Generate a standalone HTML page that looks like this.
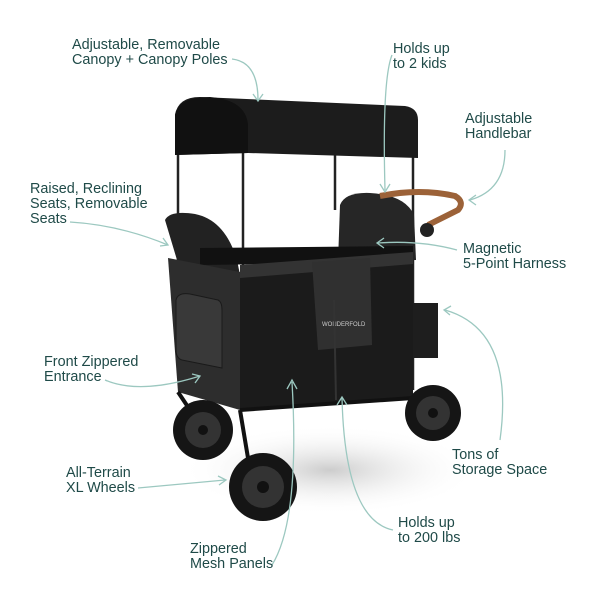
<!DOCTYPE html>
<html><head><meta charset="utf-8"><style>
body{margin:0;width:600px;height:600px;background:#fff;overflow:hidden;position:relative;font-family:"Liberation Sans",sans-serif}
.t{position:absolute;color:#1f4a48;font-size:14.4px;line-height:15px;white-space:nowrap}
svg{position:absolute;left:0;top:0}
</style></head><body>
<svg width="600" height="600" viewBox="0 0 600 600">
<defs><radialGradient id="sh" cx="0.5" cy="0.5" r="0.5"><stop offset="0" stop-color="#ccc"/><stop offset="1" stop-color="#fff" stop-opacity="0"/></radialGradient></defs>
<ellipse cx="330" cy="470" rx="150" ry="45" fill="url(#sh)"/>
<g stroke="#222" stroke-width="2.5">
<line x1="178" y1="150" x2="178" y2="270"/><line x1="243" y1="150" x2="243" y2="290"/>
<line x1="335" y1="150" x2="335" y2="210"/><line x1="413" y1="150" x2="413" y2="390"/>
</g>
<path d="M175 155 L175 115 Q178 97 200 97 L405 106 Q418 108 418 120 L418 158 L248 153 Z" fill="#1c1c1c"/>
<path d="M175 155 L175 115 Q178 97 210 97 Q246 100 248 125 L248 153 Z" fill="#111"/>
<path d="M165 220 Q170 210 195 214 Q225 220 237 260 L240 275 L180 270 Z" fill="#222"/>
<path d="M340 205 Q345 192 370 193 Q405 195 414 215 L416 260 L338 262 Z" fill="#262626"/>
<path d="M200 248 L413 246 L413 262 L200 265 Z" fill="#111"/>
<path d="M168 258 L240 272 L240 410 L178 392 Z" fill="#2d2d2d"/>
<path d="M176 300 Q178 292 190 294 L218 300 Q222 302 222 310 L222 368 L182 360 Q176 358 176 350 Z" fill="#393939" stroke="#1a1a1a"/>
<path d="M240 270 L413 257 L413 398 L240 410 Z" fill="#1b1b1b"/>
<path d="M240 265 L413 252 L413 264 L240 278 Z" fill="#333"/>
<path d="M312 262 L370 258 L372 345 L318 350 Z" fill="#303030"/>
<text x="322" y="326" font-family="Liberation Sans" font-size="6" fill="#ccc">WONDERFOLD</text>
<line x1="334" y1="300" x2="336" y2="400" stroke="#333" stroke-width="2"/>
<rect x="413" y="303" width="25" height="55" fill="#1e1e1e"/>
<g stroke="#111" stroke-width="4" fill="none">
<line x1="240" y1="410" x2="250" y2="470"/><line x1="240" y1="410" x2="413" y2="398"/>
<line x1="178" y1="392" x2="200" y2="425"/><line x1="413" y1="398" x2="430" y2="410"/>
</g>
<path d="M380 196 Q420 188 455 196 Q465 202 458 210 L428 225" stroke="#9c6238" stroke-width="6" fill="none"/>
<circle cx="427" cy="230" r="7" fill="#222"/>
<g>
<circle cx="203" cy="430" r="30" fill="#151515"/><circle cx="203" cy="430" r="18" fill="#333"/><circle cx="203" cy="430" r="5" fill="#111"/>
<circle cx="433" cy="413" r="28" fill="#151515"/><circle cx="433" cy="413" r="17" fill="#333"/><circle cx="433" cy="413" r="5" fill="#111"/>
<circle cx="263" cy="487" r="34" fill="#151515"/><circle cx="263" cy="487" r="21" fill="#333"/><circle cx="263" cy="487" r="6" fill="#111"/>
</g>
<g stroke="#9cc8c0" stroke-width="1.3" fill="none">
<path d="M232 59 Q258 62 258 100"/><path d="M253 94 L258 101 L263 94"/>
<path d="M392 55 Q382 80 385 190"/><path d="M380 184 L385 192 L390 184"/>
<path d="M505 150 Q505 190 470 200"/><path d="M476 195 L469 200 L476 205"/>
<path d="M70 222 Q120 225 168 245"/><path d="M160 246 L168 245 L163 238"/>
<path d="M457 250 Q420 240 378 243"/><path d="M384 238 L377 243 L384 248"/>
<path d="M105 380 Q140 395 200 376"/><path d="M192 374 L200 376 L195 383"/>
<path d="M500 440 Q515 330 445 310"/><path d="M451 306 L444 310 L450 315"/>
<path d="M138 488 Q180 484 225 480"/><path d="M218 476 L226 480 L219 485"/>
<path d="M393 530 Q345 520 342 398"/><path d="M337 405 L342 397 L347 405"/>
<path d="M272 565 Q300 520 292 382"/><path d="M287 389 L292 380 L297 389"/>
</g>
</svg>
<div class="t" style="left:72px;top:38px">Adjustable, Removable<br>Canopy + Canopy Poles</div>
<div class="t" style="left:393px;top:42px">Holds up<br>to 2 kids</div>
<div class="t" style="left:465px;top:112px">Adjustable<br>Handlebar</div>
<div class="t" style="left:30px;top:182px">Raised, Reclining<br>Seats, Removable<br>Seats</div>
<div class="t" style="left:463px;top:242px">Magnetic<br>5-Point Harness</div>
<div class="t" style="left:44px;top:355px">Front Zippered<br>Entrance</div>
<div class="t" style="left:452px;top:448px">Tons of<br>Storage Space</div>
<div class="t" style="left:66px;top:466px">All-Terrain<br>XL Wheels</div>
<div class="t" style="left:398px;top:516px">Holds up<br>to 200 lbs</div>
<div class="t" style="left:190px;top:542px">Zippered<br>Mesh Panels</div>
</body></html>
